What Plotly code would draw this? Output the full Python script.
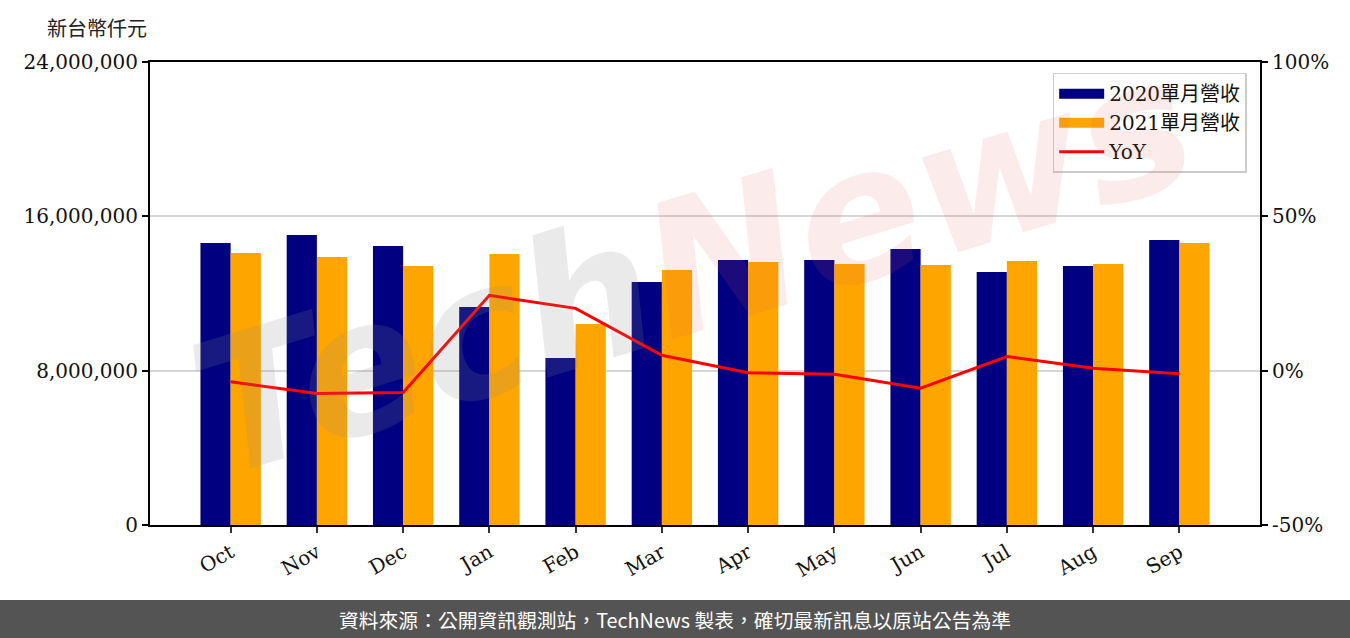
import plotly.graph_objects as go

months = ["Oct", "Nov", "Dec", "Jan", "Feb", "Mar", "Apr", "May", "Jun", "Jul", "Aug", "Sep"]
rev_2020 = [14.62e6, 15.03e6, 14.46e6, 11.30e6, 8.66e6, 12.60e6, 13.74e6, 13.74e6, 14.31e6, 13.12e6, 13.43e6, 14.77e6]
rev_2021 = [14.10e6, 13.89e6, 13.43e6, 14.05e6, 10.42e6, 13.22e6, 13.63e6, 13.53e6, 13.48e6, 13.69e6, 13.53e6, 14.62e6]
yoy = [-3.6, -7.4, -7.1, 24.4, 20.2, 5.0, -0.7, -1.2, -5.7, 4.6, 0.8, -1.0]

left_ticks = [0, 8e6, 16e6, 24e6]
left_labels = ["0", "8,000,000", "16,000,000", "24,000,000"]
right_ticks = [-50, 0, 50, 100]
right_labels = ["-50%", "0%", "50%", "100%"]

xs = list(range(len(months)))
serif = "DejaVu Serif, Noto Sans CJK TC"
FS = 20

fig = go.Figure()
fig.add_trace(go.Bar(x=xs, y=rev_2020, name="2020單月營收", marker_color="#000080",
                     marker_line_width=0, showlegend=False))
fig.add_trace(go.Bar(x=xs, y=rev_2021, name="2021單月營收", marker_color="#FFA500",
                     marker_line_width=0, showlegend=False))
fig.add_trace(go.Scatter(x=xs, y=yoy, name="YoY", mode="lines", yaxis="y2",
                         line=dict(color="#FF0000", width=3), showlegend=False))
# legend entries (wide rectangle look)
fig.add_trace(go.Scatter(x=[None], y=[None], name="2020單月營收", mode="lines",
                         line=dict(color="#000080", width=17)))
fig.add_trace(go.Scatter(x=[None], y=[None], name="2021單月營收", mode="lines",
                         line=dict(color="#FFA500", width=17)))
fig.add_trace(go.Scatter(x=[None], y=[None], name="YoY", mode="lines",
                         line=dict(color="#FF0000", width=3)))

fig.update_layout(
    width=1350, height=638,
    margin=dict(l=150, r=90, t=62, b=113),
    paper_bgcolor="white", plot_bgcolor="white",
    barmode="group", bargap=0.3, bargroupgap=0,
    font=dict(family=serif, size=FS, color="#111"),
    xaxis=dict(range=[-0.935, 11.935], tickvals=xs, ticktext=months, tickangle=-30,
               showline=True, linecolor="black", linewidth=2, mirror=True,
               ticks="outside", ticklen=6, tickcolor="#333", tickwidth=1.5,
               showgrid=False, zeroline=False, tickfont=dict(family=serif, size=FS)),
    yaxis=dict(range=[0, 24e6], tickvals=left_ticks, ticktext=left_labels,
               showline=True, linecolor="black", linewidth=2,
               ticks="outside", ticklen=6, tickcolor="black", tickwidth=1.5,
               showgrid=True, gridcolor="#d6d6d6", gridwidth=1.5, zeroline=False,
               tickfont=dict(family=serif, size=FS)),
    yaxis2=dict(range=[-50, 100], tickvals=right_ticks, ticktext=right_labels,
                overlaying="y", side="right", showline=True, linecolor="black", linewidth=2,
                ticks="outside", ticklen=6, tickcolor="black", tickwidth=1.5,
                showgrid=False, zeroline=False, tickfont=dict(family=serif, size=FS)),
    legend=dict(x=0.988, y=0.977, xanchor="right", yanchor="top",
                bgcolor="rgba(255,255,255,0.85)", bordercolor="#cccccc", borderwidth=1.5,
                font=dict(family=serif, size=FS), itemwidth=45, tracegroupgap=0),
)

# watermark
fig.add_annotation(
    xref="paper", yref="paper", x=0.49, y=0.56, showarrow=False, textangle=-17,
    text="<i><b><span style='color:rgba(140,140,140,0.18)'>Tech</span>"
         "<span style='color:rgba(220,90,90,0.12)'>News</span></b></i>",
    font=dict(family="DejaVu Sans", size=185),
)

# unit label
fig.add_annotation(xref="paper", yref="paper", x=(45 - 150) / 1110, y=(525 - 27) / 463,
                   xanchor="left", yanchor="middle", showarrow=False, text="新台幣仟元",
                   font=dict(family="Noto Sans CJK TC", size=20, color="#222"))

# footer bar
fig.add_shape(type="rect", xref="paper", yref="paper", x0=-0.2, x1=1.2,
              y0=(525 - 640) / 463, y1=(525 - 600) / 463,
              fillcolor="#545454", line_width=0, layer="above")
fig.add_annotation(xref="paper", yref="paper", x=(675 - 150) / 1110, y=(525 - 619) / 463,
                   xanchor="center", yanchor="middle", showarrow=False,
                   text="資料來源：公開資訊觀測站，TechNews 製表，確切最新訊息以原站公告為準",
                   font=dict(family="Noto Sans CJK TC", size=19.8, color="white"))

fig.write_html("out.html", config={"displayModeBar": False},
               post_script="document.body.style.margin='0';document.body.style.overflow='hidden';")
